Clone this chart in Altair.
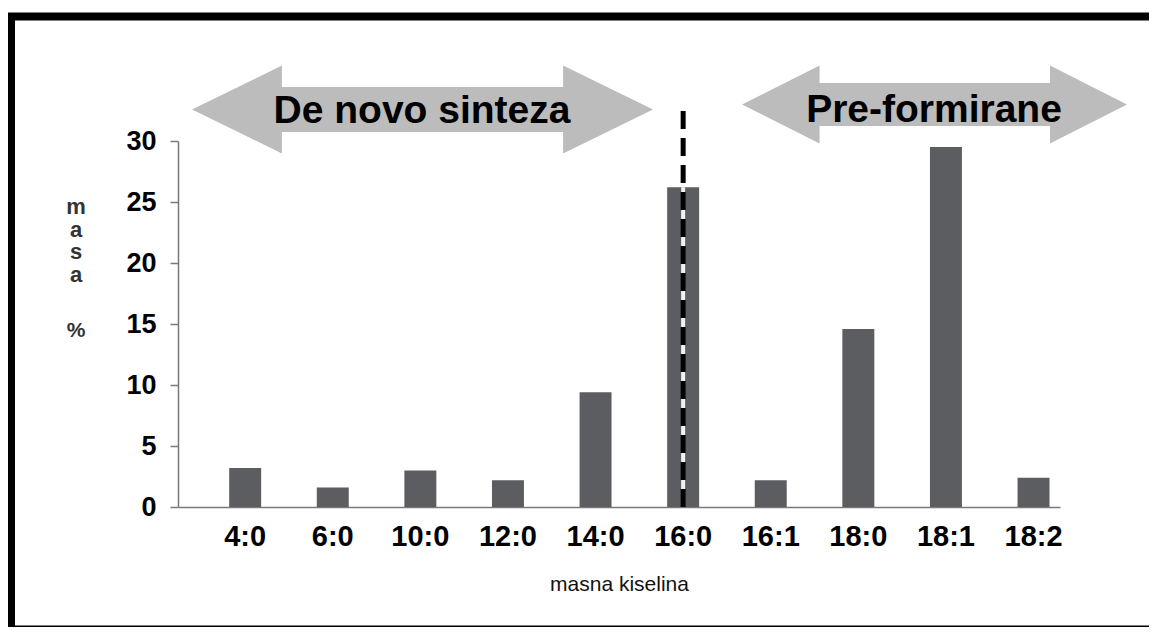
import altair as alt
import pandas as pd

# --- data ---
categories = ["4:0", "6:0", "10:0", "12:0", "14:0", "16:0", "16:1", "18:0", "18:1", "18:2"]
values = [3.2, 1.6, 3.0, 2.2, 9.4, 26.2, 2.2, 14.6, 29.5, 2.4]
y_ticks = [0, 5, 10, 15, 20, 25, 30]
divider_category = "16:0"
divider_top = 33.2
arrow_labels = ["De novo sinteza", "Pre-formirane"]
y_title_letters = ["m", "a", "s", "a"]
y_title_unit = "%"
x_title = "masna kiselina"

FONT = "Liberation Sans"
W, H = 882, 366

df = pd.DataFrame({"kiselina": categories, "masa": values})
one = pd.DataFrame({"k": [0]})

xscale = alt.Scale(domain=categories, paddingInner=0.635, paddingOuter=0.352, align=0.83)
yscale = alt.Scale(domain=[0, 30], nice=False)

bars = alt.Chart(df).mark_bar(color="#5b5d61").encode(
    x=alt.X("kiselina:N", scale=xscale, sort=categories,
            axis=alt.Axis(title=x_title, labelAngle=0, labelFontSize=29, labelFontWeight="bold",
                          labelColor="black", labelFont=FONT, ticks=False, labelPadding=15,
                          domainColor="#7a7a7a", domainWidth=1.5,
                          titleFont=FONT, titleFontSize=21, titleFontWeight="normal",
                          titleColor="#111", titlePadding=22)),
    y=alt.Y("masa:Q", scale=yscale,
            axis=alt.Axis(title=None, values=y_ticks, grid=False, labelFontSize=27,
                          labelFontWeight="bold", labelColor="black", labelFont=FONT,
                          tickSize=8, tickColor="#7a7a7a", tickWidth=1.5,
                          domainColor="#7a7a7a", domainWidth=1.5, labelPadding=14)),
)

bar_at_divider = values[categories.index(divider_category)]
divider_df = pd.DataFrame({"kiselina": [divider_category], "lo": [0],
                           "hi": [divider_top], "bar": [bar_at_divider]})

divider_bg = alt.Chart(divider_df).mark_rule(color="#f2f2f2", strokeWidth=4).encode(
    x=alt.X("kiselina:N", scale=xscale, sort=categories),
    y=alt.Y("lo:Q", scale=yscale),
    y2="bar:Q",
)
divider = alt.Chart(divider_df).mark_rule(
    color="black", strokeWidth=5, strokeDash=[18, 9]
).encode(
    x=alt.X("kiselina:N", scale=xscale, sort=categories),
    y=alt.Y("lo:Q", scale=yscale),
    y2="hi:Q",
)

path_left = ("M -1 0 L -0.61 -0.191 L -0.61 -0.0976 L 0.61 -0.0976 L 0.61 -0.191 "
             "L 1 0 L 0.61 0.191 L 0.61 0.0976 L -0.61 0.0976 L -0.61 0.191 Z")
path_right = ("M -1 0 L -0.597 -0.203 L -0.597 -0.112 L 0.6 -0.112 L 0.6 -0.203 "
              "L 1 0 L 0.6 0.203 L 0.6 0.112 L -0.597 0.112 L -0.597 0.203 Z")

arrow1 = alt.Chart(one).mark_point(shape=path_left, filled=True, color="#bcbcbc",
                                   opacity=1, strokeWidth=0).encode(
    x=alt.value(244.5), y=alt.value(-31.5), size=alt.value(461 * 461))
arrow2 = alt.Chart(one).mark_point(shape=path_right, filled=True, color="#bcbcbc",
                                   opacity=1, strokeWidth=0).encode(
    x=alt.value(756.5), y=alt.value(-36.5), size=alt.value(385 * 385))

label1 = alt.Chart(one).mark_text(text=arrow_labels[0], font=FONT, fontSize=39, fontWeight="bold",
                                  color="black", align="center", baseline="alphabetic").encode(
    x=alt.value(244), y=alt.value(-18))
label2 = alt.Chart(one).mark_text(text=arrow_labels[1], font=FONT, fontSize=39, fontWeight="bold",
                                  color="black", align="center", baseline="alphabetic").encode(
    x=alt.value(756), y=alt.value(-19))

ytitle = alt.Chart(one).mark_text(text=y_title_letters, font=FONT, fontSize=22, fontWeight="bold",
                                  color="#333", align="center", baseline="alphabetic",
                                  lineHeight=22.7).encode(
    x=alt.value(-102), y=alt.value(73))
yunit = alt.Chart(one).mark_text(text=y_title_unit, font=FONT, fontSize=21, fontWeight="bold",
                                 color="#333", align="center", baseline="alphabetic").encode(
    x=alt.value(-102), y=alt.value(196))

frame_top = alt.Chart(one).mark_rule(color="black", strokeWidth=8).encode(
    x=alt.value(-171), x2=alt.value(1100), y=alt.value(-124.5))
frame_left = alt.Chart(one).mark_rule(color="black", strokeWidth=8).encode(
    x=alt.value(-167), y=alt.value(-128), y2=alt.value(500))
frame_bottom = alt.Chart(one).mark_rule(color="black", strokeWidth=3).encode(
    x=alt.value(-171), x2=alt.value(1100), y=alt.value(486))

chart = alt.layer(frame_top, frame_left, frame_bottom, arrow1, arrow2, label1, label2,
                  bars, divider_bg, divider, ytitle, yunit).properties(
    width=W, height=H,
    autosize=alt.AutoSizeParams(type="none"),
    padding={"left": 170, "top": 133, "right": 89, "bottom": 120},
).configure_view(stroke=None)

chart.save("out.html", embed_options={"renderer": "svg", "actions": False})
